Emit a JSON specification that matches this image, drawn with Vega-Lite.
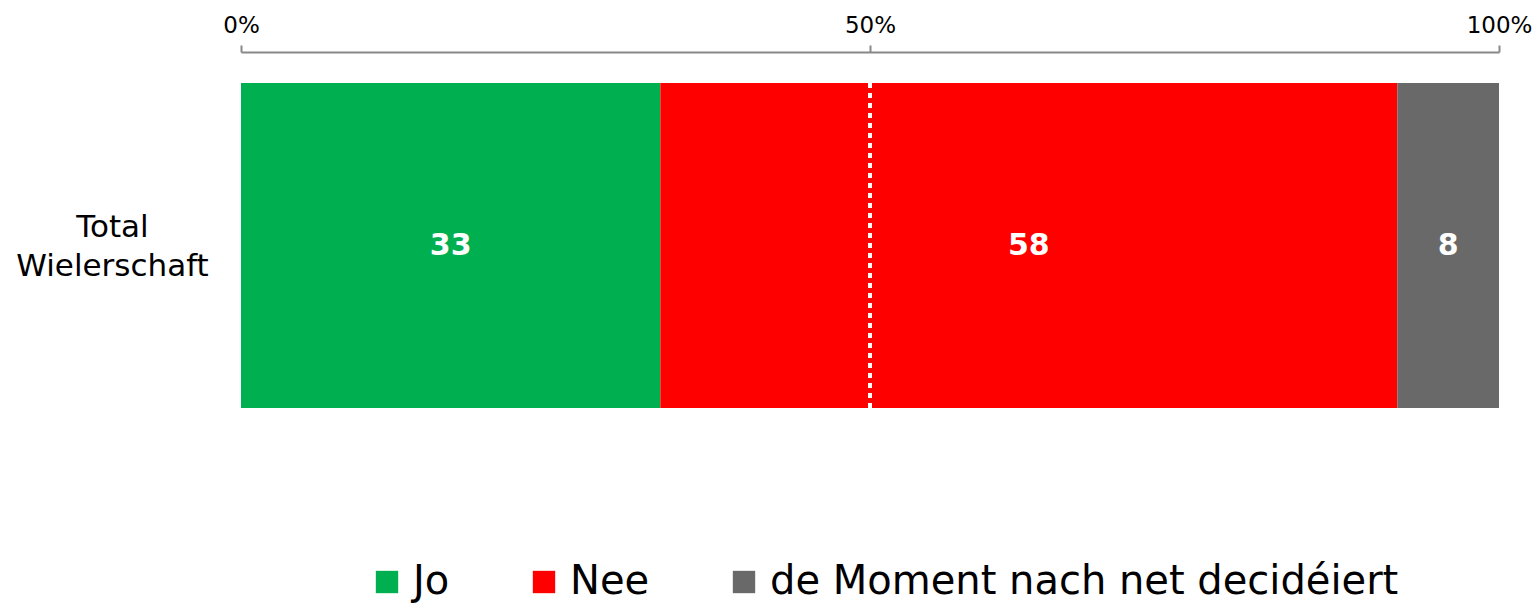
{
  "$schema": "https://vega.github.io/schema/vega-lite/v6.json",
  "width": 1258,
  "height": 325,
  "autosize": {"type": "none"},
  "padding": {"left": 241, "top": 83, "right": 40, "bottom": 196},
  "background": "white",
  "config": {"view": {"stroke": null}, "font": "DejaVu Sans"},
  "data": {"values": [
    {"cat": "Total Wielerschaft", "answer": "Jo", "v": 33, "o": 1},
    {"cat": "Total Wielerschaft", "answer": "Nee", "v": 58, "o": 2},
    {"cat": "Total Wielerschaft", "answer": "de Moment nach net decidéiert", "v": 8, "o": 3}
  ]},
  "transform": [
    {"stack": "v", "groupby": ["cat"], "sort": [{"field": "o"}], "offset": "normalize", "as": ["x0", "x1"]},
    {"calculate": "(datum.x0 + datum.x1) / 2", "as": "xm"}
  ],
  "layer": [
    {
      "mark": {"type": "bar"},
      "encoding": {
        "y": {"field": "cat", "type": "nominal", "scale": {"paddingInner": 0, "paddingOuter": 0},
          "axis": {"title": null, "domain": false, "ticks": false, "labelAlign": "center", "labelPadding": 129,
            "labelFontSize": 31, "labelColor": "black", "labelLineHeight": 39, "labelBaseline": "middle",
            "labelOffset": -18, "labelLimit": 0,
            "labelExpr": "split(datum.label, ' ')"}},
        "x": {"field": "x0", "type": "quantitative", "scale": {"domain": [0, 1]},
          "axis": {"orient": "top", "offset": 31, "values": [0, 0.5, 1], "format": ".0%", "title": null, "grid": false,
            "domainColor": "#888888", "domainWidth": 2, "tickColor": "#888888", "tickWidth": 2, "tickSize": 7,
            "labelFontSize": 23, "labelColor": "black", "labelPadding": 8, "labelFlush": false}},
        "x2": {"field": "x1"},
        "color": {"field": "answer", "type": "nominal",
          "scale": {"domain": ["Jo", "Nee", "de Moment nach net decidéiert"], "range": ["#00B050", "#FF0000", "#696969"]},
          "legend": {"title": null, "orient": "none", "direction": "horizontal", "legendX": 126, "legendY": 479,
            "symbolType": "square", "symbolSize": 500, "symbolStrokeWidth": 0, "labelFontSize": 40, "labelColor": "black",
            "columnPadding": 74, "labelOffset": 6, "symbolOpacity": 1, "labelLimit": 0}}
      }
    },
    {
      "mark": {"type": "rule", "color": "white", "strokeWidth": 4, "strokeDash": [5, 5]},
      "encoding": {"x": {"datum": 0.5, "type": "quantitative"}}
    },
    {
      "mark": {"type": "text", "color": "white", "fontWeight": "bold", "fontSize": 30},
      "encoding": {
        "y": {"field": "cat", "type": "nominal"},
        "x": {"field": "xm", "type": "quantitative"},
        "text": {"field": "v", "type": "quantitative"}
      }
    }
  ]
}
